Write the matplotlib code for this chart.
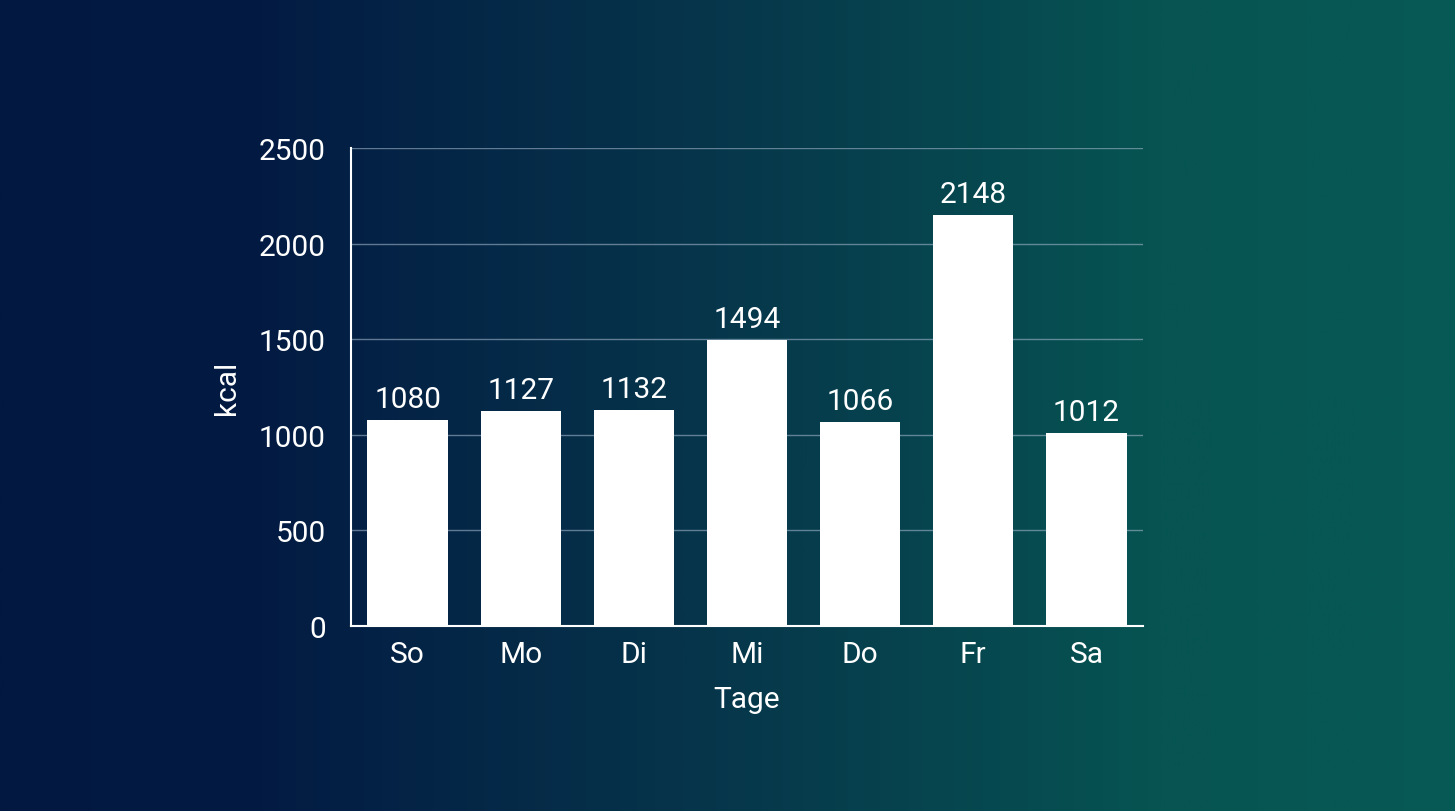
import numpy as np
import matplotlib.pyplot as plt
from matplotlib.colors import LinearSegmentedColormap

plt.rcParams['font.family'] = ['Roboto', 'DejaVu Sans']

tage = ["So", "Mo", "Di", "Mi", "Do", "Fr", "Sa"]
kcal = [1080, 1127, 1132, 1494, 1066, 2148, 1012]
y_ticks = [0, 500, 1000, 1500, 2000, 2500]

W, H = 1455, 812
fig = plt.figure(figsize=(W / 100, H / 100), dpi=100)

# background gradient, navy left -> teal right
bg = fig.add_axes([0, 0, 1, 1], zorder=-10)
cmap = LinearSegmentedColormap.from_list("bg", [
    (0.0, "#021840"), (0.18, "#031b43"), (0.45, "#06324a"),
    (0.8, "#075452"), (1.0, "#075a56")])
bg.imshow(np.linspace(0, 1, 512)[None, :], aspect="auto", cmap=cmap,
          extent=[0, 1, 0, 1])
bg.axis("off")

ax = fig.add_axes([351 / W, 1 - 627 / H, (1143 - 351) / W, (627 - 149) / H])
ax.patch.set_alpha(0)

x = np.arange(len(tage))
bars = ax.bar(x, kcal, width=0.71, color="white", zorder=3)
ax.bar_label(bars, labels=[str(v) for v in kcal], padding=5,
             color="white", fontsize=21.5)

ax.set_xlim(-0.5, len(tage) - 0.5)
ax.set_ylim(0, 2500)
ax.set_yticks(y_ticks)
ax.set_xticks(x)
ax.set_xticklabels(tage)
ax.tick_params(axis="both", length=0, colors="white", labelsize=21.5)
ax.tick_params(axis="y", pad=18)
ax.tick_params(axis="x", pad=10)

ax.grid(axis="y", color="#9fb3c8", alpha=0.6, linewidth=1, zorder=0)
for s in ["top", "right"]:
    ax.spines[s].set_visible(False)
for s in ["left", "bottom"]:
    ax.spines[s].set_color("white")
    ax.spines[s].set_linewidth(1.5)
    ax.spines[s].set_zorder(4)

ax.set_xlabel("Tage", color="white", fontsize=21.5, labelpad=12)
ax.set_ylabel("kcal", color="white", fontsize=21.5, labelpad=13)

fig.savefig("out.png", dpi=100)
